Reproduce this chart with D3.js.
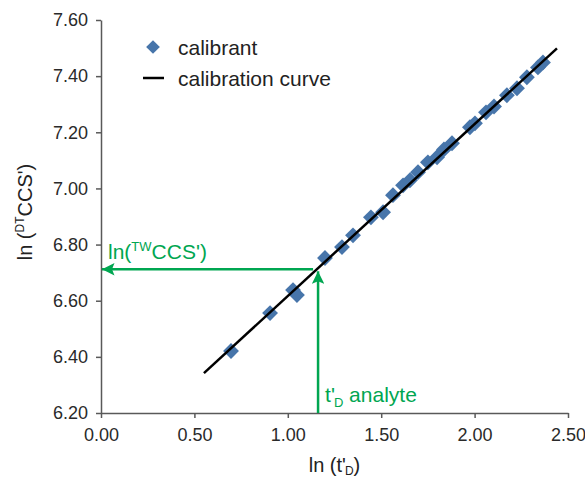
<!DOCTYPE html>
<html>
<head>
<meta charset="utf-8">
<script src="https://cdn.jsdelivr.net/npm/d3@7"></script>
<style>
  body { margin: 0; background: #fff; }
  svg text { font-family: "Liberation Sans", Arial, sans-serif; }
</style>
</head>
<body>
<div id="chart"></div>
<script>
// calibrant points: ln(t'D) vs ln(DTCCS')
var lnTd = [0.696, 0.905, 1.028, 1.049, 1.199, 1.290, 1.349, 1.445, 1.510, 1.563, 1.617, 1.654, 1.697,
            1.750, 1.799, 1.836, 1.879, 1.975, 2.002, 2.061, 2.104, 2.173, 2.227, 2.280, 2.339, 2.366];
var lnCCS = [6.421, 6.556, 6.638, 6.620, 6.752, 6.791, 6.833, 6.897, 6.915, 6.976, 7.011, 7.029, 7.058,
             7.093, 7.111, 7.139, 7.161, 7.218, 7.232, 7.271, 7.292, 7.332, 7.357, 7.396, 7.431, 7.449];

// calibration curve endpoints
var curveX = [0.551, 2.441];
var curveY = [6.342, 7.499];

// analyte lookup
var analyteX = 1.162;
var analyteY = 6.712;

var xTicks = [0, 0.5, 1.0, 1.5, 2.0, 2.5];
var yTicks = [6.2, 6.4, 6.6, 6.8, 7.0, 7.2, 7.4, 7.6];

var W = 585, H = 479;
var margin = { top: 20, right: 17, bottom: 66, left: 101 };
var width = W - margin.left - margin.right;
var height = H - margin.top - margin.bottom;

var green = "#00a651";
var blue = "#4775aa";
var axisCol = "#595959";

var svg = d3.select("#chart")
  .append("svg")
  .attr("width", W)
  .attr("height", H)
  .append("g")
  .attr("transform", "translate(" + margin.left + "," + margin.top + ")");

var x = d3.scaleLinear().domain([0, 2.5]).range([0, width]);
var y = d3.scaleLinear().domain([6.2, 7.6]).range([height, 0]);

var defs = svg.append("defs");
defs.append("marker")
  .attr("id", "arrow")
  .attr("viewBox", "0 0 10 10")
  .attr("refX", 10).attr("refY", 5)
  .attr("markerWidth", 7).attr("markerHeight", 5)
  .attr("markerUnits", "strokeWidth")
  .attr("orient", "auto")
  .append("path")
  .attr("d", "M0,0 L10,5 L0,10 L2,5 Z")
  .attr("fill", green);

// axes
var xAxis = svg.append("g")
  .attr("transform", "translate(0," + height + ")")
  .call(d3.axisBottom(x).tickValues(xTicks).tickFormat(d3.format(".2f")).tickSize(5).tickSizeOuter(0));
var yAxis = svg.append("g")
  .call(d3.axisLeft(y).tickValues(yTicks).tickFormat(d3.format(".2f")).tickSize(5).tickSizeOuter(0));

[xAxis, yAxis].forEach(function (g) {
  g.select(".domain").attr("stroke", axisCol).attr("stroke-width", 1.5);
  g.selectAll(".tick line").attr("stroke", axisCol).attr("stroke-width", 1.5);
  g.selectAll(".tick text").attr("fill", "#2a2a2a").style("font-size", "18px");
});
xAxis.selectAll(".tick text").attr("dy", "1.1em");
yAxis.selectAll(".tick text").attr("x", -13);

// green guide arrows (under the data)
svg.append("line")
  .attr("x1", x(analyteX)).attr("y1", height)
  .attr("x2", x(analyteX)).attr("y2", y(analyteY) + 2)
  .attr("stroke", green).attr("stroke-width", 2.5)
  .attr("marker-end", "url(#arrow)");
svg.append("line")
  .attr("x1", x(analyteX) - 5).attr("y1", y(analyteY))
  .attr("x2", x(0) + 1).attr("y2", y(analyteY))
  .attr("stroke", green).attr("stroke-width", 2.5)
  .attr("marker-end", "url(#arrow)");

// calibrant diamonds
svg.append("g")
  .selectAll("path")
  .data(lnTd)
  .enter()
  .append("path")
  .attr("transform", function (d, i) { return "translate(" + x(d) + "," + y(lnCCS[i]) + ")"; })
  .attr("d", d3.symbol().type(d3.symbolDiamond2).size(160))
  .attr("fill", blue);

// calibration curve
svg.append("line")
  .attr("x1", x(curveX[0])).attr("y1", y(curveY[0]))
  .attr("x2", x(curveX[1])).attr("y2", y(curveY[1]))
  .attr("stroke", "#000").attr("stroke-width", 2.5);

// annotations
var a1 = svg.append("text")
  .attr("x", 7).attr("y", y(analyteY) - 10)
  .attr("fill", green).style("font-size", "21px");
a1.append("tspan").text("ln(");
a1.append("tspan").text("TW").attr("dy", -8).style("font-size", "13px");
a1.append("tspan").text("CCS')").attr("dy", 8);

var a2 = svg.append("text")
  .attr("x", x(analyteX) + 7).attr("y", height - 11)
  .attr("fill", green).style("font-size", "21px");
a2.append("tspan").text("t'");
a2.append("tspan").text("D").attr("dy", 5).attr("dx", -1).style("font-size", "13px");
a2.append("tspan").text(" analyte").attr("dy", -5);

// legend
var lg = svg.append("g").attr("transform", "translate(" + (153 - margin.left) + "," + (47 - margin.top) + ")");
lg.append("path")
  .attr("d", d3.symbol().type(d3.symbolDiamond2).size(120))
  .attr("fill", blue);
lg.append("text").attr("x", 25).attr("y", 7.5).style("font-size", "21px").attr("fill", "#222").text("calibrant");
lg.append("line").attr("x1", -10).attr("x2", 11).attr("y1", 31).attr("y2", 31)
  .attr("stroke", "#000").attr("stroke-width", 2.5);
lg.append("text").attr("x", 25).attr("y", 38.5).style("font-size", "21px").attr("fill", "#222").text("calibration curve");

// axis titles
var xt = svg.append("text")
  .attr("x", x(1.25)).attr("y", height + 59)
  .attr("text-anchor", "middle").attr("fill", "#222").style("font-size", "20px");
xt.append("tspan").text("ln (t'");
xt.append("tspan").text("D").attr("dy", 3).attr("dx", -1).style("font-size", "12px");
xt.append("tspan").text(")").attr("dy", -3);

var yt = svg.append("text")
  .attr("transform", "translate(" + (32 - margin.left) + "," + (212 - margin.top) + ") rotate(-90)")
  .attr("text-anchor", "middle").attr("fill", "#222").style("font-size", "20px");
yt.append("tspan").text("ln (");
yt.append("tspan").text("DT").attr("dy", -8).style("font-size", "12px");
yt.append("tspan").text("CCS')").attr("dy", 8);
</script>
</body>
</html>
